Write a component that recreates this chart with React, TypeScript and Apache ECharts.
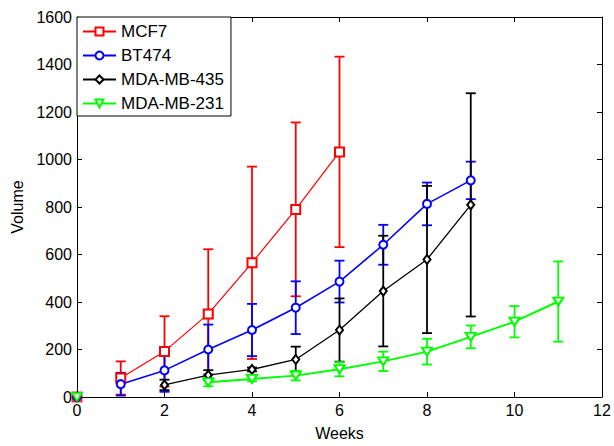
import React, { useEffect, useRef } from "react";
import * as echarts from "echarts";

// Tumour volume per cell line, mean and error half-width by week
const mcf7Weeks = [1, 2, 3, 4, 5, 6];
const mcf7Mean = [80, 192, 350, 565, 790, 1032];
const mcf7Err = [70, 148, 272, 405, 366, 401];

const bt474Weeks = [1, 2, 3, 4, 5, 6, 7, 8, 9];
const bt474Mean = [54, 112, 200, 282, 376, 486, 641, 813, 912];
const bt474Err = [48, 90, 105, 110, 111, 88, 84, 90, 79];

const mda435Weeks = [2, 3, 4, 5, 6, 7, 8, 9];
const mda435Mean = [51, 92, 116, 158, 282, 446, 579, 809];
const mda435Err = [22, 21, 8, 54, 133, 233, 310, 470];

const mda231Weeks = [3, 4, 5, 6, 7, 8, 9, 10, 11];
const mda231Mean = [62, 76, 90, 117, 150, 191, 253, 317, 402];
const mda231Err = [17, 10, 20, 30, 41, 54, 48, 66, 169];

// Every line also has a lone marker at the origin
const originWeek = 0;
const originValue = 0;

const xTicks = { min: 0, max: 12, interval: 2 };
const yTicks = { min: 0, max: 1600, interval: 200 };

const FONT = "'Liberation Sans', Arial, Helvetica, sans-serif";

type Line = {
  name: string;
  color: string;
  symbol: string;
  symbolSize: number | number[];
  symbolRotate?: number;
  lineWidth: number;
  weeks: number[];
  mean: number[];
  err: number[];
};

const lines: Line[] = [
  { name: "MCF7", color: "#ff0000", symbol: "emptyRect", symbolSize: 9, lineWidth: 1.2, weeks: mcf7Weeks, mean: mcf7Mean, err: mcf7Err },
  { name: "BT474", color: "#0000ff", symbol: "emptyCircle", symbolSize: 8, lineWidth: 1.6, weeks: bt474Weeks, mean: bt474Mean, err: bt474Err },
  { name: "MDA-MB-435", color: "#000000", symbol: "emptyDiamond", symbolSize: [7, 9], lineWidth: 1.3, weeks: mda435Weeks, mean: mda435Mean, err: mda435Err },
  { name: "MDA-MB-231", color: "#00ff00", symbol: "emptyTriangle", symbolSize: [10, 8], symbolRotate: 180, lineWidth: 2, weeks: mda231Weeks, mean: mda231Mean, err: mda231Err },
];

function errorBarSeries(l: Line) {
  const data = l.weeks.map((w, i) => [w, l.mean[i] - l.err[i], l.mean[i] + l.err[i]]);
  return {
    type: "custom",
    name: l.name + " error",
    xAxisIndex: 0,
    yAxisIndex: 0,
    silent: true,
    clip: true,
    encode: { x: 0, y: [1, 2] },
    data,
    renderItem: (_params: any, api: any) => {
      const x = api.value(0);
      const lo = api.coord([x, api.value(1)]);
      const hi = api.coord([x, api.value(2)]);
      const hw = 5;
      const style = { stroke: l.color, lineWidth: 1.8, fill: "none" };
      return {
        type: "group",
        children: [
          { type: "line", shape: { x1: hi[0], y1: hi[1], x2: lo[0], y2: lo[1] }, style },
          { type: "line", shape: { x1: hi[0] - hw, y1: hi[1], x2: hi[0] + hw, y2: hi[1] }, style },
          { type: "line", shape: { x1: lo[0] - hw, y1: lo[1], x2: lo[0] + hw, y2: lo[1] }, style },
        ],
      };
    },
  };
}

function lineSeries(l: Line) {
  return {
    type: "line",
    name: l.name,
    xAxisIndex: 0,
    yAxisIndex: 0,
    data: l.weeks.map((w, i) => [w, l.mean[i]]),
    symbol: l.symbol,
    symbolSize: l.symbolSize,
    symbolRotate: l.symbolRotate ?? 0,
    showAllSymbol: true,
    lineStyle: { color: l.color, width: l.lineWidth },
    itemStyle: { color: l.color, borderColor: l.color, borderWidth: 1.3 },
    emphasis: { disabled: true },
  };
}

function originSeries(l: Line) {
  return {
    type: "scatter",
    name: l.name + " origin",
    xAxisIndex: 0,
    yAxisIndex: 0,
    data: [[originWeek, originValue]],
    symbol: l.symbol,
    symbolSize: l.symbolSize,
    symbolRotate: l.symbolRotate ?? 0,
    itemStyle: { color: l.color, borderColor: l.color, borderWidth: 1.2 },
    silent: true,
    clip: false,
  };
}

export default function App() {
  const ref = useRef<HTMLDivElement>(null);

  useEffect(() => {
    if (!ref.current) return;
    const chart = echarts.init(ref.current, null, { renderer: "svg" });

    const tickStyle = { inside: true, length: 5, lineStyle: { color: "#000", width: 1 } };
    const axisLine = { show: true, onZero: false, lineStyle: { color: "#000", width: 1 } };
    const labelStyle = {
      color: "#000",
      fontSize: 16,
      fontFamily: FONT,
      formatter: (v: number) => String(v),
    };

    const series: any[] = [];
    lines.forEach((l) => {
      series.push(errorBarSeries(l));
      series.push(lineSeries(l));
    });
    lines.forEach((l) => series.push(originSeries(l)));

    chart.setOption({
      animation: false,
      backgroundColor: "#fff",
      grid: { left: 77, right: 12, top: 17, bottom: 42, containLabel: false },
      legend: {
        data: lines.map((l) => l.name),
        orient: "vertical",
        left: 77,
        top: 17,
        padding: [6, 7, 4, 5],
        itemGap: 7,
        itemWidth: 33,
        itemHeight: 10,
        backgroundColor: "#fff",
        borderColor: "#000",
        borderWidth: 1,
        borderRadius: 0,
        selectedMode: false,
        textStyle: { color: "#000", fontSize: 17, fontFamily: FONT },
      },
      xAxis: [
        {
          type: "value",
          position: "bottom",
          ...xTicks,
          name: "Weeks",
          nameLocation: "middle",
          nameGap: 28,
          nameTextStyle: { color: "#000", fontSize: 16, fontFamily: FONT },
          axisLine,
          axisTick: tickStyle,
          axisLabel: { ...labelStyle, margin: 5 },
          splitLine: { show: false },
        },
        {
          type: "value",
          position: "top",
          ...xTicks,
          axisLine,
          axisTick: tickStyle,
          axisLabel: { show: false },
          splitLine: { show: false },
        },
      ],
      yAxis: [
        {
          type: "value",
          position: "left",
          ...yTicks,
          name: "Volume",
          nameLocation: "middle",
          nameGap: 42,
          nameRotate: 90,
          nameTextStyle: { color: "#000", fontSize: 16, fontFamily: FONT },
          axisLine,
          axisTick: tickStyle,
          axisLabel: { ...labelStyle, margin: 5 },
          splitLine: { show: false },
        },
        {
          type: "value",
          position: "right",
          ...yTicks,
          axisLine,
          axisTick: tickStyle,
          axisLabel: { show: false },
          splitLine: { show: false },
        },
      ],
      series,
    });

    return () => chart.dispose();
  }, []);

  return (
    <div
      ref={ref}
      style={{ position: "fixed", left: 0, top: 0, width: 614, height: 446 }}
    />
  );
}
